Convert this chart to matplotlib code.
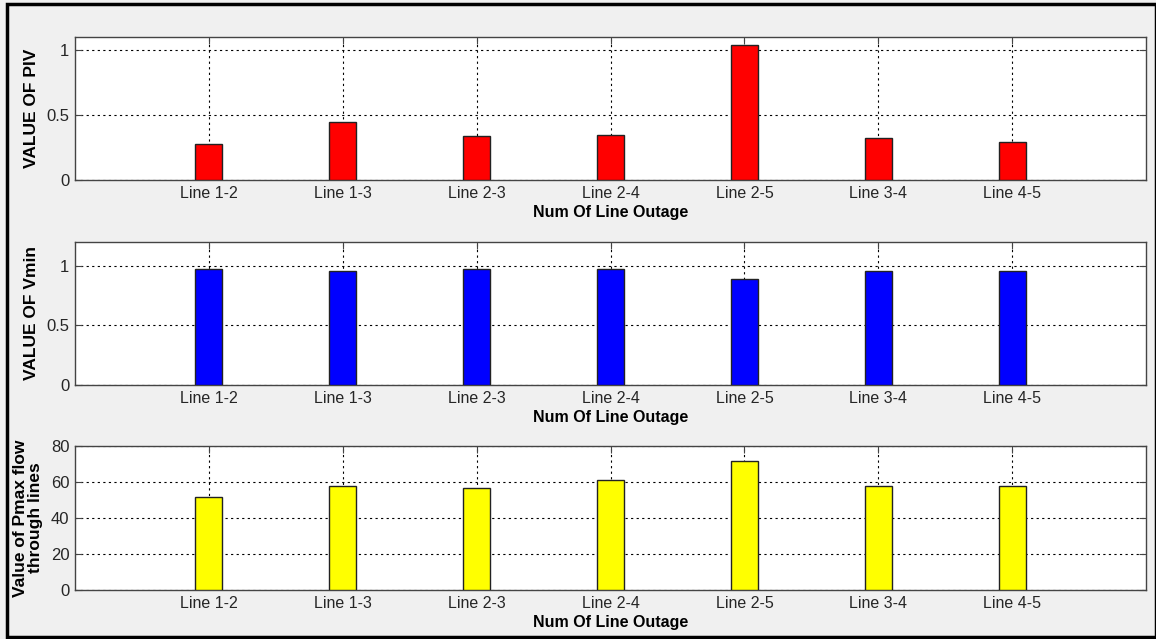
import matplotlib
matplotlib.use("Agg")
import matplotlib.pyplot as plt
from matplotlib.patches import Rectangle

lines = ["Line 1-2", "Line 1-3", "Line 2-3", "Line 2-4", "Line 2-5", "Line 3-4", "Line 4-5"]
piv = [0.28, 0.45, 0.335, 0.35, 1.04, 0.32, 0.29]
vmin = [0.975, 0.96, 0.975, 0.975, 0.89, 0.96, 0.96]
pmax = [51.7, 57.8, 56.7, 61.0, 71.7, 57.8, 57.8]

plt.rcParams['font.family'] = ['Liberation Sans', 'DejaVu Sans']

fig = plt.figure(figsize=(11.56, 6.39), dpi=100, facecolor='#f0f0f0')
fig.patches.append(Rectangle((0.006, 0.003), 0.994, 0.991, transform=fig.transFigure,
                             fill=False, edgecolor='black', linewidth=2.5))

W, H = 1156, 639
panels = [
    (piv, 'red', (0, 1.1), [0, 0.5, 1], ['0', '0.5', '1'], 'VALUE OF PIV', 37, 180),
    (vmin, 'blue', (0, 1.2), [0, 0.5, 1], ['0', '0.5', '1'], 'VALUE OF Vmin', 242, 385),
    (pmax, 'yellow', (0, 80), [0, 20, 40, 60, 80], ['0', '20', '40', '60', '80'],
     'Value of Pmax flow\nthrough lines', 446, 590),
]

x = list(range(1, len(lines) + 1))
for vals, col, ylim, yt, ytl, ylab, top, bot in panels:
    ax = fig.add_axes([75 / W, 1 - bot / H, (1146 - 75) / W, (bot - top) / H])
    ax.set_facecolor('white')
    ax.bar(x, vals, width=0.2, color=col, edgecolor='#222222', linewidth=1, zorder=3)
    ax.set_xlim(0, 8)
    ax.set_ylim(*ylim)
    ax.set_xticks(x)
    ax.set_xticklabels(lines, fontsize=11.5, color='#262626')
    ax.set_yticks(yt)
    ax.set_yticklabels(ytl, fontsize=12, color='#262626')
    ax.tick_params(direction='in', length=5, top=True, right=True, color='#444444', pad=4)
    ax.grid(True, linestyle=(0, (2, 3)), color='black', linewidth=0.8, zorder=1)
    for s in ax.spines.values():
        s.set_color('#444444')
        s.set_linewidth(1)
    ax.set_xlabel('Num Of Line Outage', fontsize=11.5, fontweight='bold', labelpad=3)
    if '\n' in ylab:
        ax.set_ylabel(ylab, fontsize=12.5, fontweight='bold', linespacing=0.95)
        ax.yaxis.set_label_coords(-0.030, 0.5)
    else:
        ax.set_ylabel(ylab, fontsize=12.5, fontweight='bold')
        ax.yaxis.set_label_coords(-0.034, 0.5)

fig.savefig('out.png', dpi=100, facecolor=fig.get_facecolor())
